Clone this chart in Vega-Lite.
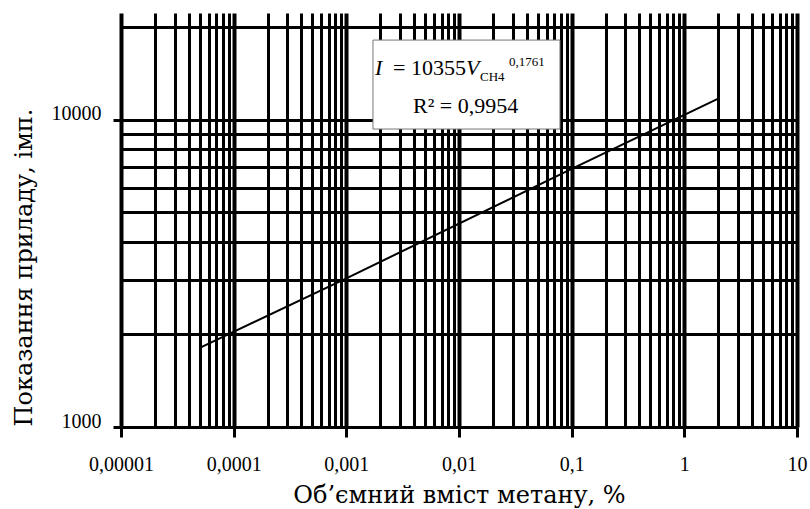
{
  "$schema": "https://vega.github.io/schema/vega-lite/v6.json",
  "width": 676,
  "height": 414,
  "autosize": {"type": "none"},
  "padding": {"left": 121, "top": 13, "right": 13, "bottom": 82},
  "background": "white",
  "config": {
    "view": {"stroke": null},
    "font": "Liberation Serif",
    "axis": {"labelFont": "Liberation Serif", "titleFontWeight": "normal", "titleColor": "black", "labelColor": "black"},
    "text": {"font": "Liberation Serif"}
  },
  "datasets": {
    "trend": [{"V": 0.00005, "I": 1810}, {"V": 0.001, "I": 3046}, {"V": 0.1, "I": 6910}, {"V": 2, "I": 11700}],
    "box": [{"x1": 0.001724, "x2": 0.07875, "y1": 9320, "y2": 18150}],
    "eq": [
      {"part": "it", "x": 0.001797, "y": 13970, "t": "I"},
      {"part": "rmr", "x": 0.01154, "y": 13970, "t": "= 10355"},
      {"part": "it", "x": 0.01154, "y": 13970, "t": "V"},
      {"part": "sub", "x": 0.01536, "y": 13356, "t": "CH4"},
      {"part": "sub", "x": 0.02778, "y": 14940, "t": "0,1761"},
      {"part": "rm", "x": 0.003905, "y": 10508, "t": "R² = 0,9954"}
    ]
  },
  "layer": [
    {
      "data": {"name": "box"},
      "mark": {"type": "rect", "fill": "white", "stroke": "#777777", "strokeWidth": 1},
      "encoding": {
        "x": {"field": "x1", "type": "quantitative", "scale": {"type": "log", "domain": [0.00001, 10], "nice": false},
          "title": "Об’ємний вміст метану, %",
          "axis": {
            "values": [0.00001,0.00002,0.00003,0.00004,0.00005,0.00006,0.00007,0.00008,0.00009,
                       0.0001,0.0002,0.0003,0.0004,0.0005,0.0006,0.0007,0.0008,0.0009,
                       0.001,0.002,0.003,0.004,0.005,0.006,0.007,0.008,0.009,
                       0.01,0.02,0.03,0.04,0.05,0.06,0.07,0.08,0.09,
                       0.1,0.2,0.3,0.4,0.5,0.6,0.7,0.8,0.9,
                       1,2,3,4,5,6,7,8,9,10],
            "labelExpr": "abs(log(datum.value)/LN10 - round(log(datum.value)/LN10)) < 0.001 ? replace(format(datum.value, '~g'), '.', ',') : ''",
            "labelFont": "Liberation Serif", "labelFontSize": 20, "labelColor": "black",
            "labelPadding": 17, "labelOverlap": false, "labelFlush": false, "labelBound": false,
            "tickSize": 10, "tickWidth": 3, "tickColor": "black",
            "tickOpacity": {"condition": {"test": "abs(log(datum.value)/LN10 - round(log(datum.value)/LN10)) < 0.001", "value": 1}, "value": 0},
            "grid": true, "gridColor": "black", "gridOpacity": 1,
            "gridWidth": {"condition": {"test": "abs(log(datum.value)/LN10 - round(log(datum.value)/LN10)) < 0.001", "value": 4}, "value": 3},
            "domain": false,
            "titleFont": "DejaVu Serif", "titleFontSize": 24, "titleFontWeight": "normal", "titleColor": "black",
            "titleBaseline": "alphabetic", "titleY": 75
          }
        },
        "x2": {"field": "x2"},
        "y": {"field": "y1", "type": "quantitative", "scale": {"type": "log", "domain": [1000, 22230], "nice": false},
          "title": "Показання приладу, імп.",
          "axis": {
            "values": [1000,2000,3000,4000,5000,6000,7000,8000,9000,10000,20000],
            "labelExpr": "datum.value == 1000 || datum.value == 10000 ? '' + datum.value : ''",
            "labelFont": "Liberation Serif", "labelFontSize": 20, "labelColor": "black",
            "labelPadding": 12, "labelBaseline": "alphabetic", "labelOverlap": false, "labelFlush": false, "labelBound": false,
            "tickSize": 8, "tickWidth": 3, "tickColor": "black",
            "tickOpacity": {"condition": {"test": "datum.value == 1000 || datum.value == 10000", "value": 1}, "value": 0},
            "grid": true, "gridColor": "black", "gridOpacity": 1, "gridWidth": 3,
            "domain": false,
            "titleFont": "DejaVu Serif", "titleFontSize": 24, "titleFontWeight": "normal", "titleColor": "black",
            "titleBaseline": "alphabetic", "titleX": -90, "titleY": 254, "titleAngle": -90
          }
        },
        "y2": {"field": "y2"}
      }
    },
    {
      "data": {"name": "trend"},
      "mark": {"type": "line", "color": "black", "strokeWidth": 2},
      "encoding": {
        "x": {"field": "V", "type": "quantitative", "scale": {"type": "log", "domain": [0.00001, 10], "nice": false}},
        "y": {"field": "I", "type": "quantitative", "scale": {"type": "log", "domain": [1000, 22230], "nice": false}}
      }
    },
    {
      "data": {"name": "eq"},
      "transform": [{"filter": "datum.part == 'it'"}],
      "mark": {"type": "text", "align": "left", "baseline": "alphabetic", "font": "Liberation Serif", "fontStyle": "italic", "fontSize": 22, "color": "black"},
      "encoding": {
        "x": {"field": "x", "type": "quantitative", "scale": {"type": "log", "domain": [0.00001, 10], "nice": false}},
        "y": {"field": "y", "type": "quantitative", "scale": {"type": "log", "domain": [1000, 22230], "nice": false}},
        "text": {"field": "t"}
      }
    },
    {
      "data": {"name": "eq"},
      "transform": [{"filter": "datum.part == 'rmr'"}],
      "mark": {"type": "text", "align": "right", "baseline": "alphabetic", "font": "Liberation Serif", "fontSize": 22, "color": "black"},
      "encoding": {
        "x": {"field": "x", "type": "quantitative", "scale": {"type": "log", "domain": [0.00001, 10], "nice": false}},
        "y": {"field": "y", "type": "quantitative", "scale": {"type": "log", "domain": [1000, 22230], "nice": false}},
        "text": {"field": "t"}
      }
    },
    {
      "data": {"name": "eq"},
      "transform": [{"filter": "datum.part == 'rm'"}],
      "mark": {"type": "text", "align": "left", "baseline": "alphabetic", "font": "Liberation Serif", "fontSize": 22, "color": "black"},
      "encoding": {
        "x": {"field": "x", "type": "quantitative", "scale": {"type": "log", "domain": [0.00001, 10], "nice": false}},
        "y": {"field": "y", "type": "quantitative", "scale": {"type": "log", "domain": [1000, 22230], "nice": false}},
        "text": {"field": "t"}
      }
    },
    {
      "data": {"name": "eq"},
      "transform": [{"filter": "datum.part == 'sub'"}],
      "mark": {"type": "text", "align": "left", "baseline": "alphabetic", "font": "Liberation Serif", "fontSize": 13, "color": "black"},
      "encoding": {
        "x": {"field": "x", "type": "quantitative", "scale": {"type": "log", "domain": [0.00001, 10], "nice": false}},
        "y": {"field": "y", "type": "quantitative", "scale": {"type": "log", "domain": [1000, 22230], "nice": false}},
        "text": {"field": "t"}
      }
    }
  ]
}
